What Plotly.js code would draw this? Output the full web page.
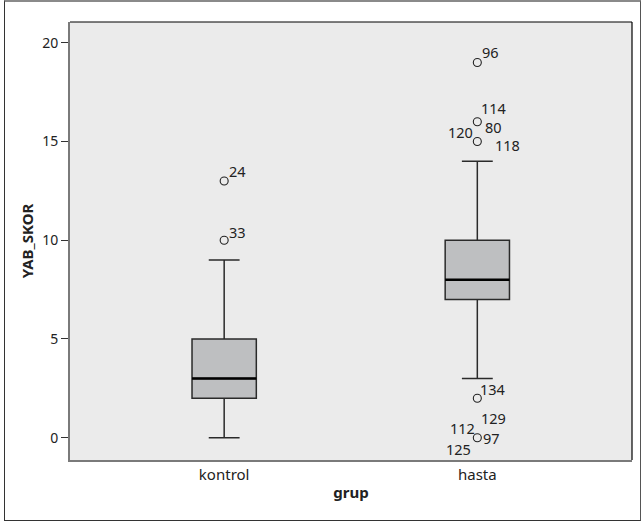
<!DOCTYPE html>
<html>
<head>
<meta charset="utf-8">
<script src="https://cdn.plot.ly/plotly-3.0.1.min.js"></script>
<style>
html,body{margin:0;padding:0;background:#fff;}
#wrap{position:relative;width:643px;height:522px;}
#chart{position:absolute;left:0;top:0;width:643px;height:522px;}
#frame{position:absolute;left:4px;top:0;width:637px;height:521px;border-top:2px solid #8a8a8a;border-left:1px solid #333;border-bottom:1px solid #333;border-right:1px solid #555;pointer-events:none;box-sizing:border-box;}
</style>
</head>
<body>
<div id="wrap"><div id="chart"></div><div id="frame"></div></div>
<script>
// Data
var groups = ["kontrol", "hasta"];
var q1 = [2, 7];
var medians = [3, 8];
var q3 = [5, 10];
var lowerFence = [0, 3];
var upperFence = [9, 14];

var outlierGroup = ["kontrol", "kontrol", "hasta", "hasta", "hasta", "hasta", "hasta"];
var outlierValue = [13, 10, 19, 16, 15, 2, 0];

var labelGroup = ["kontrol", "kontrol", "hasta", "hasta", "hasta", "hasta", "hasta", "hasta", "hasta", "hasta", "hasta", "hasta"];
var labelValue = [13, 10, 19, 16, 16, 16, 15, 2, 0, 0, 0, 0];
var labelText = ["24", "33", "96", "114", "80", "120", "118", "134", "129", "112", "97", "125"];

var yTicks = [0, 5, 10, 15, 20];

// Label offsets (pixels) – style only
var labelDx = [13, 13, 13, 16, 16, -17, 30, 15, 16, -15, 14, -19];
var labelDy = [10, 8, 10, 14, -5, -10, -4, 9, 20, 10, 0, -11];

var FONT = "Noto Sans, Open Sans, DejaVu Sans, sans-serif";

var boxTrace = {
  type: "box",
  x: groups,
  q1: q1, median: medians, q3: q3,
  lowerfence: lowerFence, upperfence: upperFence,
  width: 0.254,
  whiskerwidth: 0.48,
  fillcolor: "rgb(190,191,193)",
  line: {color: "#2a2a2a", width: 1.5},
  boxpoints: false,
  hoverinfo: "skip",
  showlegend: false
};

var medianTrace = {
  type: "box",
  x: groups,
  q1: medians, median: medians, q3: medians,
  lowerfence: medians, upperfence: medians,
  width: 0.254,
  whiskerwidth: 0,
  fillcolor: "rgba(0,0,0,0)",
  line: {color: "#000", width: 2.6},
  boxpoints: false,
  hoverinfo: "skip",
  showlegend: false
};

var outlierTrace = {
  type: "scatter",
  mode: "markers",
  x: outlierGroup,
  y: outlierValue,
  marker: {symbol: "circle-open", size: 8, color: "#222", line: {width: 1.1, color: "#222"}},
  hoverinfo: "skip",
  showlegend: false
};

var annotations = labelText.map(function (t, i) {
  return {
    x: labelGroup[i], y: labelValue[i], xref: "x", yref: "y",
    text: t, showarrow: false,
    xshift: labelDx[i], yshift: labelDy[i],
    xanchor: "center", yanchor: "middle",
    font: {family: FONT, size: 14.5, color: "#222"}
  };
});

var layout = {
  width: 643, height: 522,
  margin: {l: 70, r: 11, t: 22, b: 62, pad: 0},
  paper_bgcolor: "#fff",
  plot_bgcolor: "rgb(235,235,235)",
  boxmode: "overlay",
  font: {family: FONT, size: 14, color: "#222"},
  xaxis: {
    type: "category",
    categoryorder: "array", categoryarray: groups,
    range: [-0.609, 1.611],
    showgrid: false, zeroline: false,
    showline: true, linecolor: "#7a7a7a", linewidth: 2,
    ticks: "", ticklen: 0,
    tickfont: {family: FONT, size: 15, color: "#222"},
    title: {text: "grup", font: {family: FONT, size: 15, color: "#222", weight: "bold"}, standoff: 4}
  },
  yaxis: {
    range: [-1.13, 21.05],
    tickvals: yTicks,
    ticktext: yTicks.map(String),
    showgrid: false, zeroline: false,
    showline: true, linecolor: "#7a7a7a", linewidth: 2,
    ticks: "outside", ticklen: 7, tickwidth: 1, tickcolor: "#333",
    tickfont: {family: FONT, size: 14, color: "#222"},
    title: {text: "YAB_SKOR", font: {family: FONT, size: 15, color: "#222", weight: "bold"}, standoff: 5}
  },
  shapes: [
    {type: "line", xref: "paper", yref: "paper", x0: 0, x1: 1, y0: 1, y1: 1, line: {color: "#000", width: 1.2}},
    {type: "line", xref: "paper", yref: "paper", x0: 1, x1: 1, y0: 0, y1: 1, line: {color: "#000", width: 1.2}}
  ],
  annotations: annotations
};

Plotly.newPlot("chart", [boxTrace, medianTrace, outlierTrace], layout, {displayModeBar: false, staticPlot: true});
</script>
</body>
</html>
